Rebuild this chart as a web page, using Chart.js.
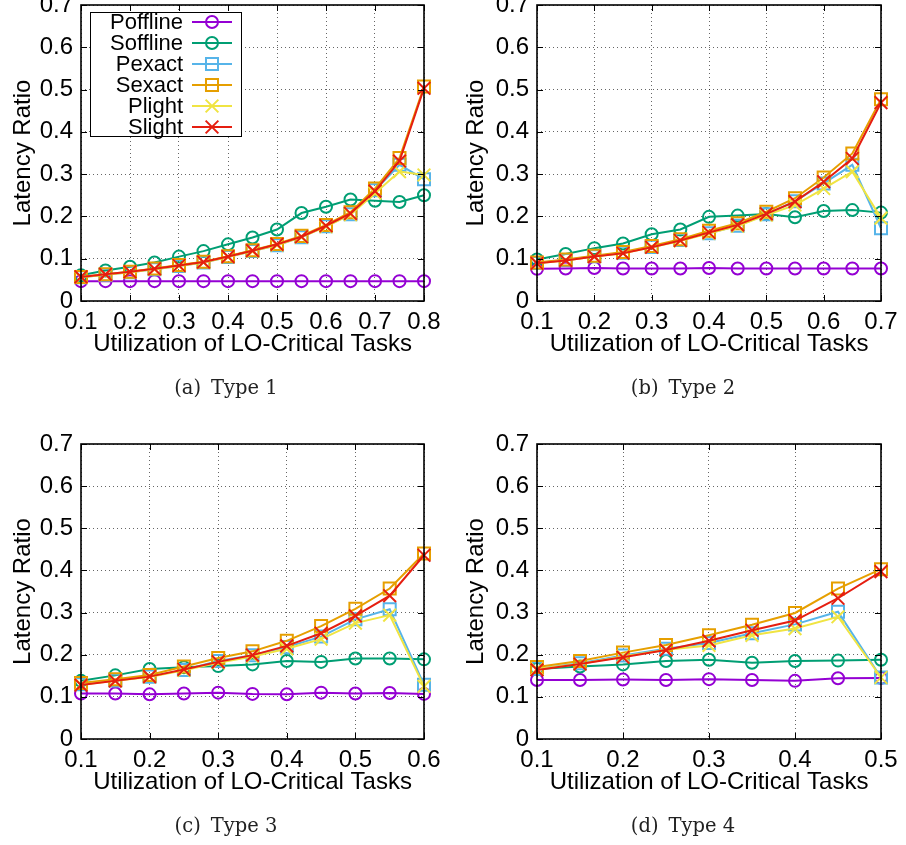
<!DOCTYPE html>
<html>
<head>
<meta charset="utf-8">
<script src="https://cdn.jsdelivr.net/npm/chart.js@4/dist/chart.umd.min.js"></script>
<style>
  html, body { margin: 0; padding: 0; background: #fff; }
  body { position: relative; width: 906px; height: 845px; overflow: hidden; }
  canvas { position: absolute; }
  .cap { position: absolute; font-family: "DejaVu Serif", "Liberation Serif", serif; font-size: 19.5px;
         color: #222; transform: translate(-50%, -50%); white-space: nowrap; }
  .cap span { margin-left: 10px; }
</style>
</head>
<body>
<script>
// ---- data: latency ratio vs. utilization of LO-critical tasks ----
const seriesNames = ['Poffline', 'Soffline', 'Pexact', 'Sexact', 'Plight', 'Slight'];
const yTicks = [0, 0.1, 0.2, 0.3, 0.4, 0.5, 0.6, 0.7];

// Type 1
const util1 = [0.1, 0.15, 0.2, 0.25, 0.3, 0.35, 0.4, 0.45, 0.5, 0.55, 0.6, 0.65, 0.7, 0.75, 0.8];
const xTicks1 = [0.1, 0.2, 0.3, 0.4, 0.5, 0.6, 0.7, 0.8];
const poffline1 = [0.047, 0.047, 0.047, 0.047, 0.047, 0.047, 0.047, 0.047, 0.047, 0.047, 0.047, 0.047, 0.047, 0.047, 0.047];
const soffline1 = [0.061, 0.072, 0.081, 0.091, 0.105, 0.118, 0.134, 0.150, 0.169, 0.208, 0.223, 0.240, 0.237, 0.234, 0.250];
const pexact1   = [0.056, 0.062, 0.068, 0.075, 0.083, 0.091, 0.104, 0.118, 0.132, 0.151, 0.177, 0.205, 0.262, 0.322, 0.288];
const sexact1   = [0.057, 0.063, 0.069, 0.077, 0.085, 0.093, 0.106, 0.120, 0.135, 0.154, 0.180, 0.210, 0.266, 0.338, 0.507];
const plight1   = [0.056, 0.062, 0.068, 0.075, 0.083, 0.091, 0.104, 0.118, 0.132, 0.151, 0.176, 0.204, 0.255, 0.306, 0.298];
const slight1   = [0.057, 0.063, 0.069, 0.076, 0.084, 0.092, 0.105, 0.119, 0.134, 0.152, 0.178, 0.207, 0.260, 0.331, 0.503];

// Type 2
const util2 = [0.1, 0.15, 0.2, 0.25, 0.3, 0.35, 0.4, 0.45, 0.5, 0.55, 0.6, 0.65, 0.7];
const xTicks2 = [0.1, 0.2, 0.3, 0.4, 0.5, 0.6, 0.7];
const poffline2 = [0.076, 0.077, 0.078, 0.077, 0.077, 0.077, 0.078, 0.077, 0.077, 0.077, 0.077, 0.077, 0.077];
const soffline2 = [0.098, 0.111, 0.125, 0.136, 0.158, 0.169, 0.199, 0.202, 0.206, 0.198, 0.213, 0.215, 0.209];
const pexact2   = [0.090, 0.097, 0.106, 0.114, 0.128, 0.144, 0.160, 0.178, 0.205, 0.236, 0.278, 0.322, 0.172];
const sexact2   = [0.091, 0.098, 0.107, 0.116, 0.130, 0.146, 0.166, 0.184, 0.211, 0.243, 0.292, 0.349, 0.477];
const plight2   = [0.089, 0.096, 0.105, 0.113, 0.127, 0.142, 0.160, 0.177, 0.203, 0.227, 0.266, 0.306, 0.196];
const slight2   = [0.089, 0.096, 0.105, 0.113, 0.127, 0.143, 0.162, 0.180, 0.206, 0.235, 0.282, 0.337, 0.469];

// Type 3
const util3 = [0.1, 0.15, 0.2, 0.25, 0.3, 0.35, 0.4, 0.45, 0.5, 0.55, 0.6];
const xTicks3 = [0.1, 0.2, 0.3, 0.4, 0.5, 0.6];
const poffline3 = [0.108, 0.108, 0.106, 0.108, 0.110, 0.107, 0.106, 0.110, 0.108, 0.109, 0.107];
const soffline3 = [0.138, 0.151, 0.166, 0.170, 0.173, 0.177, 0.185, 0.183, 0.191, 0.191, 0.189];
const pexact3   = [0.130, 0.139, 0.148, 0.164, 0.185, 0.199, 0.218, 0.243, 0.284, 0.308, 0.129];
const sexact3   = [0.133, 0.142, 0.152, 0.172, 0.192, 0.208, 0.233, 0.268, 0.309, 0.357, 0.440];
const plight3   = [0.129, 0.138, 0.147, 0.163, 0.181, 0.196, 0.214, 0.237, 0.275, 0.294, 0.125];
const slight3   = [0.128, 0.138, 0.148, 0.165, 0.183, 0.199, 0.221, 0.251, 0.292, 0.340, 0.436];

// Type 4
const util4 = [0.1, 0.15, 0.2, 0.25, 0.3, 0.35, 0.4, 0.45, 0.5];
const xTicks4 = [0.1, 0.2, 0.3, 0.4, 0.5];
const poffline4 = [0.140, 0.140, 0.141, 0.140, 0.142, 0.140, 0.138, 0.144, 0.145];
const soffline4 = [0.166, 0.172, 0.177, 0.185, 0.188, 0.181, 0.185, 0.186, 0.188];
const pexact4   = [0.167, 0.180, 0.198, 0.214, 0.228, 0.251, 0.272, 0.302, 0.146];
const sexact4   = [0.171, 0.185, 0.205, 0.223, 0.246, 0.271, 0.299, 0.357, 0.403];
const plight4   = [0.166, 0.178, 0.196, 0.212, 0.222, 0.246, 0.262, 0.290, 0.146];
const slight4   = [0.164, 0.178, 0.194, 0.211, 0.233, 0.258, 0.281, 0.334, 0.397];

// ---- styling ----
const FONT = '"Liberation Sans", Arial, Helvetica, sans-serif';
const COLORS = ['#9400d3', '#009e73', '#56b4e9', '#e69f00', '#f0e442', '#e51e10'];
const MARKERS = ['circle', 'circle', 'rect', 'rect', 'crossRot', 'crossRot'];
const MARKER_R = [6, 6, 8.5, 8.5, 9, 9];

const panels = [
  { xs: util1, xTicks: xTicks1, series: [poffline1, soffline1, pexact1, sexact1, plight1, slight1],
    ox: 0, area: { l: 81, t: 5, r: 424, b: 301 }, cap: ['(a)', 'Type 1'], capX: 226, capY: 387, key: true },
  { xs: util2, xTicks: xTicks2, series: [poffline2, soffline2, pexact2, sexact2, plight2, slight2],
    ox: 453, area: { l: 537, t: 5, r: 881, b: 301 }, cap: ['(b)', 'Type 2'], capX: 683, capY: 387, key: false },
  { xs: util3, xTicks: xTicks3, series: [poffline3, soffline3, pexact3, sexact3, plight3, slight3],
    ox: 0, area: { l: 81, t: 444, r: 424, b: 739 }, cap: ['(c)', 'Type 3'], capX: 226, capY: 825, key: false },
  { xs: util4, xTicks: xTicks4, series: [poffline4, soffline4, pexact4, sexact4, plight4, slight4],
    ox: 453, area: { l: 537, t: 444, r: 881, b: 739 }, cap: ['(d)', 'Type 4'], capX: 683, capY: 825, key: false }
];

// simple marker painter used by the key box
function paintMarker(ctx, style, r, x, y, color) {
  ctx.save();
  ctx.strokeStyle = color;
  ctx.lineWidth = 2;
  ctx.beginPath();
  if (style === 'circle') {
    ctx.arc(x, y, r, 0, Math.PI * 2);
  } else if (style === 'rect') {
    const s = r * Math.SQRT1_2;
    ctx.rect(x - s, y - s, 2 * s, 2 * s);
  } else {
    const d = r * Math.SQRT1_2;
    ctx.moveTo(x - d, y - d); ctx.lineTo(x + d, y + d);
    ctx.moveTo(x - d, y + d); ctx.lineTo(x + d, y - d);
  }
  ctx.stroke();
  ctx.restore();
}

// plot frame with inward tick marks on all four sides
const framePlugin = {
  id: 'frame',
  afterDatasetsDraw(chart) {
    const { ctx, chartArea: { left, top, right, bottom }, scales: { x, y } } = chart;
    ctx.save();
    ctx.strokeStyle = '#000';
    ctx.lineWidth = 1;
    const tl = 6;
    ctx.beginPath();
    x.ticks.forEach(t => {
      const px = Math.round(x.getPixelForValue(t.value)) + 0.5;
      ctx.moveTo(px, bottom); ctx.lineTo(px, bottom - tl);
      ctx.moveTo(px, top); ctx.lineTo(px, top + tl);
    });
    y.ticks.forEach(t => {
      const py = Math.round(y.getPixelForValue(t.value)) + 0.5;
      ctx.moveTo(left, py); ctx.lineTo(left + tl, py);
      ctx.moveTo(right, py); ctx.lineTo(right - tl, py);
    });
    ctx.stroke();
    ctx.lineWidth = 1.6;
    ctx.strokeRect(left, top, right - left, bottom - top);
    ctx.restore();
  }
};

// key box in the upper-left corner of the plot
const keyPlugin = {
  id: 'keybox',
  afterDraw(chart, args, opts) {
    if (!opts.show) return;
    const { ctx, chartArea: { left, top } } = chart;
    const bx = left + 9, by = top + 7, bw = 151, bh = 124;
    ctx.save();
    ctx.fillStyle = '#fff';
    ctx.fillRect(bx, by, bw, bh);
    ctx.strokeStyle = '#000';
    ctx.lineWidth = 1;
    ctx.strokeRect(bx + 0.5, by + 0.5, bw, bh);
    ctx.font = '22px ' + FONT;
    ctx.textAlign = 'right';
    ctx.textBaseline = 'middle';
    chart.data.datasets.forEach((ds, i) => {
      const cy = by + 10 + i * 21;
      ctx.fillStyle = '#000';
      ctx.fillText(ds.label, left + 102, cy + 1);
      ctx.strokeStyle = ds.borderColor;
      ctx.lineWidth = 2;
      ctx.beginPath();
      ctx.moveTo(left + 111, cy); ctx.lineTo(left + 151, cy);
      ctx.stroke();
      paintMarker(ctx, ds.pointStyle, ds.pointRadius, left + 131, cy, ds.borderColor);
    });
    ctx.restore();
  }
};

const TOP_PAD = 25, X_BOX = 58, BOTTOM_PAD = 22, PANEL_W = 453;

panels.forEach(p => {
  const a = p.area;
  const canvas = document.createElement('canvas');
  const h = (a.b - a.t) + TOP_PAD + X_BOX + BOTTOM_PAD;
  canvas.width = PANEL_W;
  canvas.height = h;
  canvas.style.left = p.ox + 'px';
  canvas.style.top = (a.t - TOP_PAD) + 'px';
  canvas.style.width = PANEL_W + 'px';
  canvas.style.height = h + 'px';
  document.body.appendChild(canvas);

  const datasets = seriesNames.map((name, i) => ({
    label: name,
    data: p.xs.map((x, k) => ({ x: x, y: p.series[i][k] })),
    borderColor: COLORS[i],
    backgroundColor: 'rgba(0,0,0,0)',
    borderWidth: 2,
    pointStyle: MARKERS[i],
    pointRadius: MARKER_R[i],
    pointBorderWidth: 2,
    pointBorderColor: COLORS[i],
    pointBackgroundColor: 'rgba(0,0,0,0)',
    tension: 0,
    clip: false,
    order: seriesNames.length - i
  }));

  const xT = p.xTicks, xMin = xT[0], xMax = xT[xT.length - 1];

  new Chart(canvas, {
    type: 'line',
    data: { datasets },
    plugins: [framePlugin, keyPlugin],
    options: {
      responsive: false,
      animation: false,
      events: [],
      devicePixelRatio: 1,
      layout: { padding: { left: 0, top: TOP_PAD, right: PANEL_W - (a.r - p.ox), bottom: BOTTOM_PAD } },
      plugins: { legend: { display: false }, tooltip: { enabled: false }, keybox: { show: p.key } },
      scales: {
        x: {
          type: 'linear', min: xMin, max: xMax,
          afterBuildTicks: s => { s.ticks = xT.map(v => ({ value: v })); },
          afterFit: s => { s.height = X_BOX; },
          ticks: { padding: 7, color: '#000', font: { family: FONT, size: 24 }, maxRotation: 0, autoSkip: false,
                   callback: v => v.toFixed(1) },
          grid: { color: 'rgba(0,0,0,0.6)', lineWidth: 1, drawTicks: false },
          border: { display: false, dash: [1, 3] },
          title: { display: true, text: 'Utilization of LO-Critical Tasks', color: '#000',
                   font: { family: FONT, size: 24, lineHeight: 1.2 }, padding: { top: 0, bottom: 0 } }
        },
        y: {
          type: 'linear', min: 0, max: 0.7,
          afterBuildTicks: s => { s.ticks = yTicks.map(v => ({ value: v })); },
          afterFit: s => { s.width = a.l - p.ox; },
          ticks: { padding: 8, color: '#000', font: { family: FONT, size: 24 },
                   callback: v => (v === 0 ? '0' : v.toFixed(1)) },
          grid: { color: 'rgba(0,0,0,0.6)', lineWidth: 1, drawTicks: false },
          border: { display: false, dash: [1, 3] },
          title: { display: true, text: 'Latency Ratio', color: '#000',
                   font: { family: FONT, size: 24, lineHeight: 1.2 }, padding: { top: 9, bottom: 0 } }
        }
      }
    }
  });

  const cap = document.createElement('div');
  cap.className = 'cap';
  cap.style.left = p.capX + 'px';
  cap.style.top = p.capY + 'px';
  cap.textContent = p.cap[0];
  const rest = document.createElement('span');
  rest.textContent = p.cap[1];
  cap.appendChild(rest);
  document.body.appendChild(cap);
});
</script>
</body>
</html>
